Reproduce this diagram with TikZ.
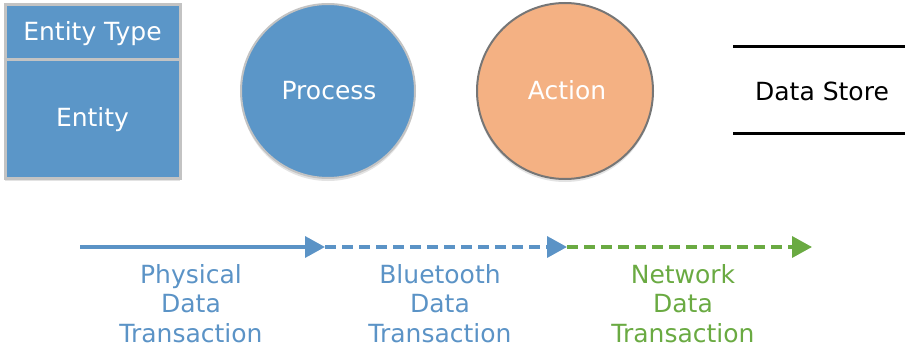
\documentclass[tikz,border=0pt]{standalone}
\usepackage{fontspec}
\setmainfont{DejaVu Sans}
\usetikzlibrary{arrows.meta,shadows}
\definecolor{eblue}{HTML}{5B96C8}
\definecolor{lblue}{HTML}{5B93C6}
\definecolor{peach}{HTML}{F4B183}
\definecolor{egreen}{HTML}{6AAA42}
\definecolor{bgray}{HTML}{C3C3C3}
\definecolor{dgray}{HTML}{767676}
\tikzset{
  txt/.style={font=\fontsize{25}{29.5}\selectfont, inner sep=0pt},
  shad/.style={drop shadow={shadow xshift=0pt,shadow yshift=-3pt,opacity=0.18,fill=black!60}},
  flow/.style={line width=3.5pt, -{Triangle[length=20pt,width=21pt]}},
  dsh/.style={dash pattern=on 11pt off 6pt}
}
\begin{document}
\begin{tikzpicture}[x=1pt,y=-1pt]
\useasboundingbox (0,0) rectangle (905,350);
% Entity
\node[shad, draw=bgray, line width=3pt, fill=eblue, minimum width=175pt, minimum height=173pt, inner sep=0pt] (ent) at (92.5,91.5) {};
\draw[bgray, line width=3pt] (ent.west |- 0,60) coordinate (dl) -- (ent.east |- 0,60) coordinate (dr);
\node[txt, text=white, anchor=base] (etype) at (92.5,41) {Entity Type};
\node[txt, text=white, anchor=base] (ename) at (92.5,127) {Entity};
% Process
\node[shad, circle, draw=bgray, line width=2pt, fill=eblue, minimum size=174pt, inner sep=0pt] (proc) at (328,91) {};
\node[txt, text=white, anchor=base] (proct) at (329,100) {Process};
% Action
\node[shad, circle, draw=dgray, line width=2pt, fill=peach, minimum size=176pt, inner sep=0pt] (act) at (565,91) {};
\node[txt, text=white, anchor=base] (actt) at (567,100) {Action};
% Data store
\coordinate (s1l) at (733,47); \coordinate (s1r) at (905,47);
\coordinate (s2l) at (733,134); \coordinate (s2r) at (905,134);
\draw[black, line width=3pt] (s1l) -- (s1r);
\draw[black, line width=3pt] (s2l) -- (s2r);
\node[txt, text=black, anchor=base] (ds) at (822,100.5) {Data Store};
% Flows
\coordinate (p0) at (80,247);
\coordinate (p1) at (325,247);
\coordinate (p2) at (567,247);
\coordinate (p3) at (812,247);
\draw[flow, lblue] (p0) -- (p1);
\draw[flow, lblue, dsh] (p1) -- (p2);
\draw[flow, egreen, dsh] (p2) -- (p3);
\node[txt, text=lblue, align=center, anchor=north] (l1) at (191,264) {Physical\\Data\\Transaction};
\node[txt, text=lblue, align=center, anchor=north] (l2) at (440,264) {Bluetooth\\Data\\Transaction};
\node[txt, text=egreen, align=center, anchor=north] (l3) at (683,264) {Network\\Data\\Transaction};
\end{tikzpicture}
\end{document}
